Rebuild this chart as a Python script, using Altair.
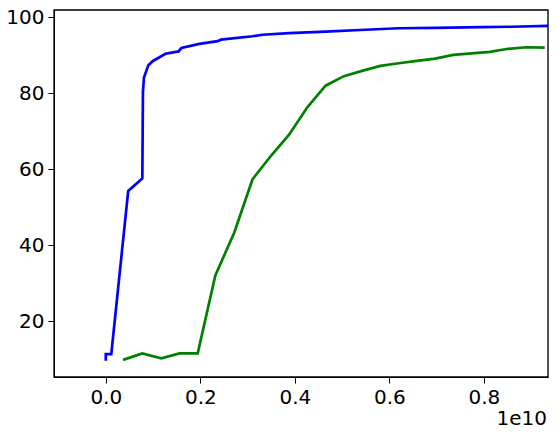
import altair as alt
import pandas as pd

# x values in units of 1e10
blue_x = [0.0, 0.0, 0.0116, 0.0474, 0.0773, 0.0786, 0.0807, 0.090, 0.0997, 0.1264,
          0.154, 0.160, 0.198, 0.2367, 0.2438, 0.3104, 0.3315, 0.3878, 0.4651,
          0.5494, 0.6196, 0.6969, 0.7952, 0.8584, 0.9357]
blue_y = [9.7, 11.4, 11.4, 54.3, 57.6, 80.4, 84.1, 87.4, 88.5, 90.4,
          91.0, 91.9, 93.0, 93.7, 94.1, 95.0, 95.4, 95.8, 96.2,
          96.7, 97.1, 97.2, 97.4, 97.5, 97.7]

green_x = [0.0365, 0.0773, 0.1174, 0.156, 0.1945, 0.2318, 0.2719, 0.3105, 0.3491,
           0.3878, 0.4264, 0.4651, 0.5037, 0.5423, 0.5810, 0.6196, 0.6582, 0.6969,
           0.7355, 0.7742, 0.8129, 0.8515, 0.8902, 0.9288]
green_y = [9.9, 11.6, 10.3, 11.6, 11.6, 32.1, 43.4, 57.4, 63.5,
           69.1, 76.3, 82.0, 84.5, 85.9, 87.2, 87.9, 88.5, 89.1,
           90.1, 90.5, 90.9, 91.7, 92.1, 92.0]

x_ticks = [0.0, 0.2, 0.4, 0.6, 0.8]
y_ticks = [20, 40, 60, 80, 100]

blue = pd.DataFrame({"x": blue_x, "y": blue_y, "order": range(len(blue_x))})
green = pd.DataFrame({"x": green_x, "y": green_y, "order": range(len(green_x))})

FONT = "DejaVu Sans"
W, H = 494, 367
xs = alt.Scale(domain=[-0.1096, 0.9357], nice=False, zero=False)
ys = alt.Scale(domain=[5.4, 101.9], nice=False, zero=False)

xaxis = alt.Axis(values=x_ticks, format=".1f", title=None, grid=False,
                 labelFontSize=20, labelFont=FONT, labelColor="black",
                 tickColor="black", tickSize=6, domainColor="black",
                 labelPadding=4, labelFlush=False)
yaxis = alt.Axis(values=y_ticks, format="d", title=None, grid=False,
                 labelFontSize=20, labelFont=FONT, labelColor="black",
                 tickColor="black", tickSize=6, domainColor="black",
                 labelPadding=4, labelFlush=False)

bl = alt.Chart(blue).mark_line(color="#0000ff", strokeWidth=2.7, clip=True).encode(
    x=alt.X("x:Q", scale=xs, axis=xaxis),
    y=alt.Y("y:Q", scale=ys, axis=yaxis),
    order="order:Q",
)
gr = alt.Chart(green).mark_line(color="#008000", strokeWidth=2.7, clip=True).encode(
    x=alt.X("x:Q", scale=xs),
    y=alt.Y("y:Q", scale=ys),
    order="order:Q",
)
frame = alt.Chart(pd.DataFrame({"a": [0]})).mark_rect(
    fill=None, stroke="black", strokeWidth=1.3
).encode(x=alt.value(0), x2=alt.value(W), y=alt.value(0), y2=alt.value(H))
label = alt.Chart(pd.DataFrame({"t": ["1e10"]})).mark_text(
    align="right", baseline="alphabetic", fontSize=20, font=FONT, color="black"
).encode(x=alt.value(W - 1), y=alt.value(415), text="t:N")

chart = alt.layer(bl, gr, frame, label).properties(
    width=W, height=H,
    autosize=alt.AutoSizeParams(type="none"),
    padding={"left": 46, "top": 2, "right": 2, "bottom": 51},
).configure_view(strokeWidth=0).configure(background="white")

chart.save("out.html", embed_options={"renderer": "svg", "actions": False})
